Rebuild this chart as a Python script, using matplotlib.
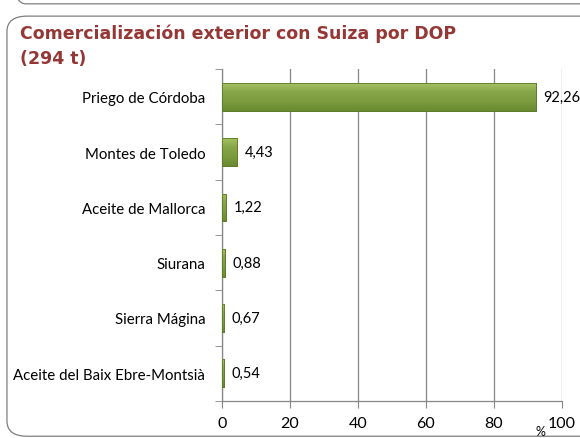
import numpy as np
import matplotlib.pyplot as plt
from matplotlib.patches import FancyBboxPatch
from matplotlib.colors import LinearSegmentedColormap

plt.rcParams['font.family'] = ['Lato', 'DejaVu Sans']

dop = ['Priego de Córdoba', 'Montes de Toledo', 'Aceite de Mallorca',
       'Siurana', 'Sierra Mágina', 'Aceite del Baix Ebre-Montsià']
share = [92.26, 4.43, 1.22, 0.88, 0.67, 0.54]
share_labels = ['92,26', '4,43', '1,22', '0,88', '0,67', '0,54']
xticks = [0, 20, 40, 60, 80, 100]

fig = plt.figure(figsize=(5.8, 4.39), dpi=100)

# rounded panel frames
fig.patches.append(FancyBboxPatch((0.012, 0.004), 1.1, 0.957, transform=fig.transFigure,
                                  boxstyle='round,pad=0,rounding_size=0.035',
                                  fc='none', ec='#7f7f7f', lw=0.9))
fig.patches.append(FancyBboxPatch((0.014, 0.989), 1.1, 0.2, transform=fig.transFigure,
                                  boxstyle='round,pad=0,rounding_size=0.03',
                                  fc='none', ec='#7f7f7f', lw=0.9))

fig.text(0.034, 0.894, 'Comercialización exterior con Suiza por DOP\n(294 t)',
         color='#953735', fontsize=12.5, fontweight='bold', va='center', ha='left',
         linespacing=1.5, family='DejaVu Sans')

ax = fig.add_axes([0.3828, 0.0843, 0.586, 0.7562])
ax.set_facecolor('none')

y = np.arange(len(dop))
cmap = LinearSegmentedColormap.from_list('g', ['#a4c262', '#86a548', '#7b9b3e', '#6a8a32'])
bars = ax.barh(y, share, height=0.5, color='#7d9c3e', edgecolor='#5c7a28', lw=0.6, zorder=3)
grad = np.linspace(0, 1, 64).reshape(-1, 1)
for b in bars:
    x0, y0 = b.get_x(), b.get_y()
    w, h = b.get_width(), b.get_height()
    im = ax.imshow(grad, cmap=cmap, aspect='auto', extent=(x0, x0 + w, y0 + h, y0),
                   origin='upper', zorder=3)
    im.set_clip_path(b)
    ax.add_patch(plt.Rectangle((x0, y0), w, h, fc='none', ec='#5c7a28', lw=0.6, zorder=4))

for yi, v, lab in zip(y, share, share_labels):
    ax.text(v + 2.2, yi, lab, va='center', ha='left', fontsize=10.5, color='black', zorder=5)

ax.set_xlim(0, 100)
ax.set_ylim(len(dop) - 0.5, -0.5)
ax.set_xticks(xticks)
ax.set_xticklabels([str(t) for t in xticks], fontsize=11.5)
ax.set_yticks(y)
ax.set_yticklabels(dop, fontsize=10.8)
ax.set_yticks(np.arange(-0.5, len(dop)), minor=True)
ax.tick_params(axis='y', which='major', length=0, pad=12)
ax.tick_params(axis='y', which='minor', length=5, color='#868686', direction='out')
ax.tick_params(axis='x', length=5, color='#868686', direction='out', pad=6)

ax.grid(axis='x', color='#868686', lw=0.9, zorder=0)
for s in ['top', 'right']:
    ax.spines[s].set_visible(False)
for s in ['left', 'bottom']:
    ax.spines[s].set_color('#868686')
    ax.spines[s].set_linewidth(0.9)

fig.text(0.932, 0.003, '%', fontsize=9, ha='center', va='bottom')

fig.savefig('out.png', dpi=100)
